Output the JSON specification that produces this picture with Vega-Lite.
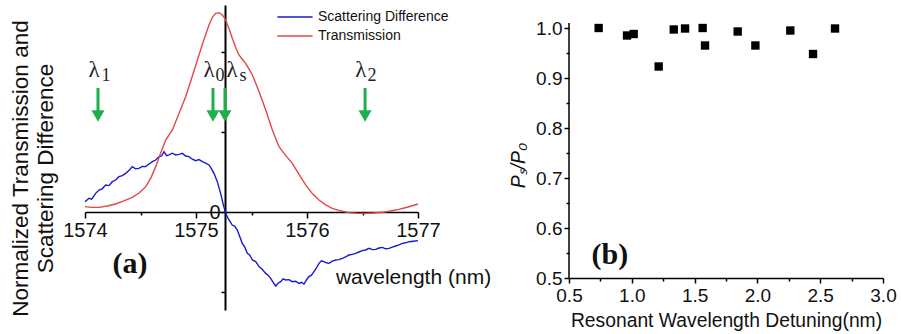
{
  "$schema": "https://vega.github.io/schema/vega-lite/v6.json",
  "padding": {"left": 9, "top": 5, "right": 3, "bottom": 0},
  "spacing": 17,
  "config": {
    "view": {"stroke": null},
    "axis": {"grid": false, "labelFont": "Liberation Sans", "titleFont": "Liberation Sans", "domainColor": "#000", "tickColor": "#000", "labelColor": "#111", "titleColor": "#111", "titleFontWeight": "normal", "labelOverlap": false, "labelFlush": false}
  },
  "datasets": {
    "curves": [
      {"x": 1574.000, "y": 0.129, "s": "Scattering Difference"},
      {"x": 1574.036, "y": 0.171, "s": "Scattering Difference"},
      {"x": 1574.060, "y": 0.160, "s": "Scattering Difference"},
      {"x": 1574.096, "y": 0.233, "s": "Scattering Difference"},
      {"x": 1574.126, "y": 0.275, "s": "Scattering Difference"},
      {"x": 1574.155, "y": 0.290, "s": "Scattering Difference"},
      {"x": 1574.186, "y": 0.338, "s": "Scattering Difference"},
      {"x": 1574.216, "y": 0.330, "s": "Scattering Difference"},
      {"x": 1574.246, "y": 0.379, "s": "Scattering Difference"},
      {"x": 1574.276, "y": 0.400, "s": "Scattering Difference"},
      {"x": 1574.306, "y": 0.442, "s": "Scattering Difference"},
      {"x": 1574.336, "y": 0.455, "s": "Scattering Difference"},
      {"x": 1574.366, "y": 0.483, "s": "Scattering Difference"},
      {"x": 1574.396, "y": 0.520, "s": "Scattering Difference"},
      {"x": 1574.426, "y": 0.567, "s": "Scattering Difference"},
      {"x": 1574.456, "y": 0.540, "s": "Scattering Difference"},
      {"x": 1574.486, "y": 0.546, "s": "Scattering Difference"},
      {"x": 1574.516, "y": 0.570, "s": "Scattering Difference"},
      {"x": 1574.547, "y": 0.567, "s": "Scattering Difference"},
      {"x": 1574.577, "y": 0.600, "s": "Scattering Difference"},
      {"x": 1574.607, "y": 0.629, "s": "Scattering Difference"},
      {"x": 1574.637, "y": 0.650, "s": "Scattering Difference"},
      {"x": 1574.667, "y": 0.692, "s": "Scattering Difference"},
      {"x": 1574.690, "y": 0.700, "s": "Scattering Difference"},
      {"x": 1574.712, "y": 0.754, "s": "Scattering Difference"},
      {"x": 1574.735, "y": 0.705, "s": "Scattering Difference"},
      {"x": 1574.757, "y": 0.713, "s": "Scattering Difference"},
      {"x": 1574.787, "y": 0.735, "s": "Scattering Difference"},
      {"x": 1574.817, "y": 0.713, "s": "Scattering Difference"},
      {"x": 1574.847, "y": 0.720, "s": "Scattering Difference"},
      {"x": 1574.877, "y": 0.733, "s": "Scattering Difference"},
      {"x": 1574.907, "y": 0.700, "s": "Scattering Difference"},
      {"x": 1574.937, "y": 0.692, "s": "Scattering Difference"},
      {"x": 1574.967, "y": 0.660, "s": "Scattering Difference"},
      {"x": 1574.997, "y": 0.642, "s": "Scattering Difference"},
      {"x": 1575.027, "y": 0.655, "s": "Scattering Difference"},
      {"x": 1575.057, "y": 0.629, "s": "Scattering Difference"},
      {"x": 1575.087, "y": 0.610, "s": "Scattering Difference"},
      {"x": 1575.117, "y": 0.588, "s": "Scattering Difference"},
      {"x": 1575.140, "y": 0.540, "s": "Scattering Difference"},
      {"x": 1575.162, "y": 0.483, "s": "Scattering Difference"},
      {"x": 1575.192, "y": 0.379, "s": "Scattering Difference"},
      {"x": 1575.222, "y": 0.233, "s": "Scattering Difference"},
      {"x": 1575.243, "y": 0.108, "s": "Scattering Difference"},
      {"x": 1575.267, "y": -0.017, "s": "Scattering Difference"},
      {"x": 1575.297, "y": -0.100, "s": "Scattering Difference"},
      {"x": 1575.327, "y": -0.163, "s": "Scattering Difference"},
      {"x": 1575.350, "y": -0.180, "s": "Scattering Difference"},
      {"x": 1575.372, "y": -0.225, "s": "Scattering Difference"},
      {"x": 1575.395, "y": -0.310, "s": "Scattering Difference"},
      {"x": 1575.417, "y": -0.392, "s": "Scattering Difference"},
      {"x": 1575.440, "y": -0.440, "s": "Scattering Difference"},
      {"x": 1575.462, "y": -0.517, "s": "Scattering Difference"},
      {"x": 1575.485, "y": -0.540, "s": "Scattering Difference"},
      {"x": 1575.508, "y": -0.600, "s": "Scattering Difference"},
      {"x": 1575.538, "y": -0.620, "s": "Scattering Difference"},
      {"x": 1575.568, "y": -0.683, "s": "Scattering Difference"},
      {"x": 1575.598, "y": -0.720, "s": "Scattering Difference"},
      {"x": 1575.628, "y": -0.767, "s": "Scattering Difference"},
      {"x": 1575.650, "y": -0.790, "s": "Scattering Difference"},
      {"x": 1575.673, "y": -0.829, "s": "Scattering Difference"},
      {"x": 1575.695, "y": -0.880, "s": "Scattering Difference"},
      {"x": 1575.718, "y": -0.925, "s": "Scattering Difference"},
      {"x": 1575.740, "y": -0.890, "s": "Scattering Difference"},
      {"x": 1575.763, "y": -0.871, "s": "Scattering Difference"},
      {"x": 1575.785, "y": -0.835, "s": "Scattering Difference"},
      {"x": 1575.808, "y": -0.850, "s": "Scattering Difference"},
      {"x": 1575.838, "y": -0.845, "s": "Scattering Difference"},
      {"x": 1575.868, "y": -0.871, "s": "Scattering Difference"},
      {"x": 1575.898, "y": -0.865, "s": "Scattering Difference"},
      {"x": 1575.928, "y": -0.892, "s": "Scattering Difference"},
      {"x": 1575.950, "y": -0.880, "s": "Scattering Difference"},
      {"x": 1575.973, "y": -0.900, "s": "Scattering Difference"},
      {"x": 1575.995, "y": -0.850, "s": "Scattering Difference"},
      {"x": 1576.018, "y": -0.808, "s": "Scattering Difference"},
      {"x": 1576.040, "y": -0.790, "s": "Scattering Difference"},
      {"x": 1576.063, "y": -0.746, "s": "Scattering Difference"},
      {"x": 1576.085, "y": -0.700, "s": "Scattering Difference"},
      {"x": 1576.108, "y": -0.642, "s": "Scattering Difference"},
      {"x": 1576.130, "y": -0.610, "s": "Scattering Difference"},
      {"x": 1576.153, "y": -0.621, "s": "Scattering Difference"},
      {"x": 1576.175, "y": -0.635, "s": "Scattering Difference"},
      {"x": 1576.198, "y": -0.642, "s": "Scattering Difference"},
      {"x": 1576.228, "y": -0.615, "s": "Scattering Difference"},
      {"x": 1576.258, "y": -0.600, "s": "Scattering Difference"},
      {"x": 1576.288, "y": -0.595, "s": "Scattering Difference"},
      {"x": 1576.318, "y": -0.579, "s": "Scattering Difference"},
      {"x": 1576.348, "y": -0.560, "s": "Scattering Difference"},
      {"x": 1576.378, "y": -0.538, "s": "Scattering Difference"},
      {"x": 1576.408, "y": -0.530, "s": "Scattering Difference"},
      {"x": 1576.438, "y": -0.517, "s": "Scattering Difference"},
      {"x": 1576.468, "y": -0.500, "s": "Scattering Difference"},
      {"x": 1576.498, "y": -0.483, "s": "Scattering Difference"},
      {"x": 1576.528, "y": -0.475, "s": "Scattering Difference"},
      {"x": 1576.559, "y": -0.454, "s": "Scattering Difference"},
      {"x": 1576.589, "y": -0.470, "s": "Scattering Difference"},
      {"x": 1576.619, "y": -0.467, "s": "Scattering Difference"},
      {"x": 1576.649, "y": -0.450, "s": "Scattering Difference"},
      {"x": 1576.679, "y": -0.442, "s": "Scattering Difference"},
      {"x": 1576.709, "y": -0.460, "s": "Scattering Difference"},
      {"x": 1576.739, "y": -0.454, "s": "Scattering Difference"},
      {"x": 1576.769, "y": -0.440, "s": "Scattering Difference"},
      {"x": 1576.799, "y": -0.425, "s": "Scattering Difference"},
      {"x": 1576.829, "y": -0.410, "s": "Scattering Difference"},
      {"x": 1576.859, "y": -0.392, "s": "Scattering Difference"},
      {"x": 1576.889, "y": -0.385, "s": "Scattering Difference"},
      {"x": 1576.919, "y": -0.371, "s": "Scattering Difference"},
      {"x": 1576.960, "y": -0.365, "s": "Scattering Difference"},
      {"x": 1577.000, "y": -0.358, "s": "Scattering Difference"},
      {"x": 1574.000, "y": 0.067, "s": "Transmission"},
      {"x": 1574.060, "y": 0.058, "s": "Transmission"},
      {"x": 1574.126, "y": 0.058, "s": "Transmission"},
      {"x": 1574.200, "y": 0.075, "s": "Transmission"},
      {"x": 1574.276, "y": 0.100, "s": "Transmission"},
      {"x": 1574.350, "y": 0.138, "s": "Transmission"},
      {"x": 1574.426, "y": 0.183, "s": "Transmission"},
      {"x": 1574.490, "y": 0.240, "s": "Transmission"},
      {"x": 1574.547, "y": 0.317, "s": "Transmission"},
      {"x": 1574.595, "y": 0.430, "s": "Transmission"},
      {"x": 1574.637, "y": 0.567, "s": "Transmission"},
      {"x": 1574.680, "y": 0.730, "s": "Transmission"},
      {"x": 1574.727, "y": 0.900, "s": "Transmission"},
      {"x": 1574.787, "y": 1.025, "s": "Transmission"},
      {"x": 1574.847, "y": 1.230, "s": "Transmission"},
      {"x": 1574.907, "y": 1.442, "s": "Transmission"},
      {"x": 1574.967, "y": 1.700, "s": "Transmission"},
      {"x": 1575.027, "y": 1.963, "s": "Transmission"},
      {"x": 1575.075, "y": 2.170, "s": "Transmission"},
      {"x": 1575.117, "y": 2.338, "s": "Transmission"},
      {"x": 1575.150, "y": 2.440, "s": "Transmission"},
      {"x": 1575.177, "y": 2.483, "s": "Transmission"},
      {"x": 1575.207, "y": 2.492, "s": "Transmission"},
      {"x": 1575.240, "y": 2.460, "s": "Transmission"},
      {"x": 1575.267, "y": 2.400, "s": "Transmission"},
      {"x": 1575.300, "y": 2.280, "s": "Transmission"},
      {"x": 1575.327, "y": 2.171, "s": "Transmission"},
      {"x": 1575.357, "y": 2.060, "s": "Transmission"},
      {"x": 1575.387, "y": 1.963, "s": "Transmission"},
      {"x": 1575.417, "y": 1.910, "s": "Transmission"},
      {"x": 1575.447, "y": 1.858, "s": "Transmission"},
      {"x": 1575.477, "y": 1.790, "s": "Transmission"},
      {"x": 1575.508, "y": 1.713, "s": "Transmission"},
      {"x": 1575.538, "y": 1.610, "s": "Transmission"},
      {"x": 1575.568, "y": 1.504, "s": "Transmission"},
      {"x": 1575.598, "y": 1.390, "s": "Transmission"},
      {"x": 1575.628, "y": 1.275, "s": "Transmission"},
      {"x": 1575.658, "y": 1.150, "s": "Transmission"},
      {"x": 1575.688, "y": 1.025, "s": "Transmission"},
      {"x": 1575.718, "y": 0.920, "s": "Transmission"},
      {"x": 1575.748, "y": 0.817, "s": "Transmission"},
      {"x": 1575.793, "y": 0.733, "s": "Transmission"},
      {"x": 1575.830, "y": 0.670, "s": "Transmission"},
      {"x": 1575.868, "y": 0.608, "s": "Transmission"},
      {"x": 1575.928, "y": 0.470, "s": "Transmission"},
      {"x": 1575.988, "y": 0.338, "s": "Transmission"},
      {"x": 1576.048, "y": 0.230, "s": "Transmission"},
      {"x": 1576.108, "y": 0.150, "s": "Transmission"},
      {"x": 1576.168, "y": 0.090, "s": "Transmission"},
      {"x": 1576.228, "y": 0.046, "s": "Transmission"},
      {"x": 1576.300, "y": 0.015, "s": "Transmission"},
      {"x": 1576.378, "y": -0.008, "s": "Transmission"},
      {"x": 1576.450, "y": -0.015, "s": "Transmission"},
      {"x": 1576.529, "y": -0.017, "s": "Transmission"},
      {"x": 1576.600, "y": -0.012, "s": "Transmission"},
      {"x": 1576.679, "y": -0.004, "s": "Transmission"},
      {"x": 1576.750, "y": 0.012, "s": "Transmission"},
      {"x": 1576.829, "y": 0.033, "s": "Transmission"},
      {"x": 1576.910, "y": 0.062, "s": "Transmission"},
      {"x": 1577.000, "y": 0.100, "s": "Transmission"}
    ],
    "shafts": [
      {"x": 1574.117, "y": 1.55, "y2": 1.2125},
      {"x": 1575.153, "y": 1.55, "y2": 1.2125},
      {"x": 1575.261, "y": 1.55, "y2": 1.2125},
      {"x": 1576.523, "y": 1.55, "y2": 1.2125}
    ],
    "heads": [
      {"x": 1574.117, "y": 1.2},
      {"x": 1575.153, "y": 1.2},
      {"x": 1575.261, "y": 1.2},
      {"x": 1576.523, "y": 1.2}
    ],
    "lam": [
      {"x": 1574.081, "y": 1.775, "t": "λ"},
      {"x": 1575.117, "y": 1.775, "t": "λ"},
      {"x": 1575.324, "y": 1.775, "t": "λ"},
      {"x": 1576.486, "y": 1.775, "t": "λ"}
    ],
    "sub": [
      {"x": 1574.189, "y": 1.7, "t": "1"},
      {"x": 1575.216, "y": 1.7, "t": "0"},
      {"x": 1575.423, "y": 1.7, "t": "s"},
      {"x": 1576.586, "y": 1.7, "t": "2"}
    ],
    "taga": [{"x": 1574.405, "y": -0.65, "t": "(a)"}],
    "ratio": [
      {"x": 0.736, "y": 1.000},
      {"x": 0.962, "y": 0.985},
      {"x": 1.015, "y": 0.988},
      {"x": 1.214, "y": 0.923},
      {"x": 1.334, "y": 0.997},
      {"x": 1.424, "y": 0.999},
      {"x": 1.564, "y": 1.000},
      {"x": 1.583, "y": 0.965},
      {"x": 1.843, "y": 0.993},
      {"x": 1.984, "y": 0.965},
      {"x": 2.262, "y": 0.995},
      {"x": 2.443, "y": 0.948},
      {"x": 2.618, "y": 0.999}
    ],
    "yline": [{"x": 0.5, "y": 0.5, "y2": 1.01}],
    "tagb": [{"x": 0.826, "y": 0.547, "t": "(b)"}]
  },
  "hconcat": [
    {
      "width": 333,
      "height": 305,
      "encoding": {
        "x": {
          "field": "x", "type": "quantitative",
          "scale": {"domain": [1574, 1577], "nice": false, "zero": false},
          "axis": {
            "title": "wavelength (nm)", "offset": -98,
            "values": [1574, 1574.5, 1575, 1575.5, 1576, 1576.5, 1577],
            "labelExpr": "datum.value % 1 == 0 ? format(datum.value, 'd') : ''",
            "tickSize": {"condition": {"test": "datum.value % 1 == 0", "value": 6}, "value": 3},
            "labelFontSize": 20, "labelPadding": 2, "labelColor": "#111",
            "titleFontSize": 21, "titleX": 328, "titleY": 65, "titleAlign": "center", "titleBaseline": "middle",
            "domainWidth": 1.5, "tickWidth": 1.5
          }
        },
        "y": {
          "field": "y", "type": "quantitative",
          "scale": {"domain": [-1.225, 2.5875], "nice": false, "zero": false},
          "axis": {
            "title": ["Normalized Transmission and", "Scattering Difference"],
            "offset": -140,
            "values": [-1, 0, 1, 2],
            "labelExpr": "datum.value == 0 ? '0' : ''",
            "tickSize": 4, "labelFontSize": 20, "labelPadding": 1,
            "titleFontSize": 22.5, "titleLineHeight": 25, "titleX": -193, "titleY": 163,
            "titleAlign": "center", "titleAngle": 270, "titleBaseline": "bottom",
            "domainWidth": 2, "tickWidth": 1.5
          }
        }
      },
      "layer": [
        {
          "data": {"name": "curves"},
          "mark": {"type": "line", "strokeWidth": 1.4},
          "encoding": {
            "color": {
              "field": "s", "type": "nominal",
              "scale": {"domain": ["Scattering Difference", "Transmission"], "range": ["#1a1acd", "#e04848"]},
              "legend": {
                "orient": "none", "legendX": 198, "legendY": 0, "title": null,
                "symbolType": "M-1.6,0H1.6", "symbolSize": 484, "symbolStrokeWidth": 1.5,
                "labelFontSize": 14, "labelFont": "Liberation Sans", "labelColor": "#111",
                "rowPadding": 0, "labelOffset": 11
              }
            }
          }
        },
        {
          "data": {"name": "shafts"},
          "mark": {"type": "rule", "color": "#1fae4b", "strokeWidth": 3},
          "encoding": {"y2": {"field": "y2"}}
        },
        {
          "data": {"name": "heads"},
          "mark": {"type": "point", "shape": "triangle-down", "filled": true, "color": "#1fae4b", "size": 170, "opacity": 1}
        },
        {
          "data": {"name": "lam"},
          "mark": {"type": "text", "font": "Liberation Serif", "fontSize": 23, "color": "#222", "align": "center", "baseline": "middle"},
          "encoding": {"text": {"field": "t"}}
        },
        {
          "data": {"name": "sub"},
          "mark": {"type": "text", "font": "Liberation Serif", "fontSize": 18, "color": "#222", "align": "center", "baseline": "middle"},
          "encoding": {"text": {"field": "t"}}
        },
        {
          "data": {"name": "taga"},
          "mark": {"type": "text", "font": "Liberation Serif", "fontSize": 30, "fontWeight": "bold", "color": "#111", "align": "center", "baseline": "middle"},
          "encoding": {"text": {"field": "t"}}
        }
      ]
    },
    {
      "width": 314,
      "height": 273,
      "encoding": {
        "x": {
          "field": "x", "type": "quantitative",
          "scale": {"domain": [0.5, 3.0], "nice": false, "zero": false},
          "axis": {
            "title": "Resonant Wavelength Detuning(nm)",
            "values": [0.5, 0.75, 1.0, 1.25, 1.5, 1.75, 2.0, 2.25, 2.5, 2.75, 3.0],
            "labelExpr": "abs(datum.value*2 - round(datum.value*2)) < 0.001 ? format(datum.value, '.1f') : ''",
            "tickSize": {"condition": {"test": "abs(datum.value*2 - round(datum.value*2)) < 0.001", "value": 5}, "value": 3},
            "labelFontSize": 19, "labelPadding": 3, "titleFontSize": 19.3, "titlePadding": 6,
            "domainWidth": 1.5, "tickWidth": 1.5
          }
        },
        "y": {
          "field": "y", "type": "quantitative",
          "scale": {"domain": [0.5, 1.046], "nice": false, "zero": false},
          "axis": {
            "title": "Pₛ/P₀", "titleFontStyle": "italic", "domain": false,
            "values": [0.5, 0.55, 0.6, 0.65, 0.7, 0.75, 0.8, 0.85, 0.9, 0.95, 1.0],
            "labelExpr": "abs(datum.value*10 - round(datum.value*10)) < 0.001 ? format(datum.value, '.1f') : ''",
            "tickSize": {"condition": {"test": "abs(datum.value*10 - round(datum.value*10)) < 0.001", "value": 5}, "value": 3},
            "labelFontSize": 19, "labelPadding": 2, "titleFontSize": 19.5, "titlePadding": 7, "titleY": 160,
            "tickWidth": 1.5
          }
        }
      },
      "layer": [
        {
          "data": {"name": "yline"},
          "mark": {"type": "rule", "color": "#000", "strokeWidth": 1.5},
          "encoding": {"y2": {"field": "y2"}}
        },
        {
          "data": {"name": "ratio"},
          "mark": {"type": "square", "size": 70, "color": "#000", "opacity": 1}
        },
        {
          "data": {"name": "tagb"},
          "mark": {"type": "text", "font": "Liberation Serif", "fontSize": 30, "fontWeight": "bold", "color": "#111", "align": "center", "baseline": "middle"},
          "encoding": {"text": {"field": "t"}}
        }
      ]
    }
  ]
}
